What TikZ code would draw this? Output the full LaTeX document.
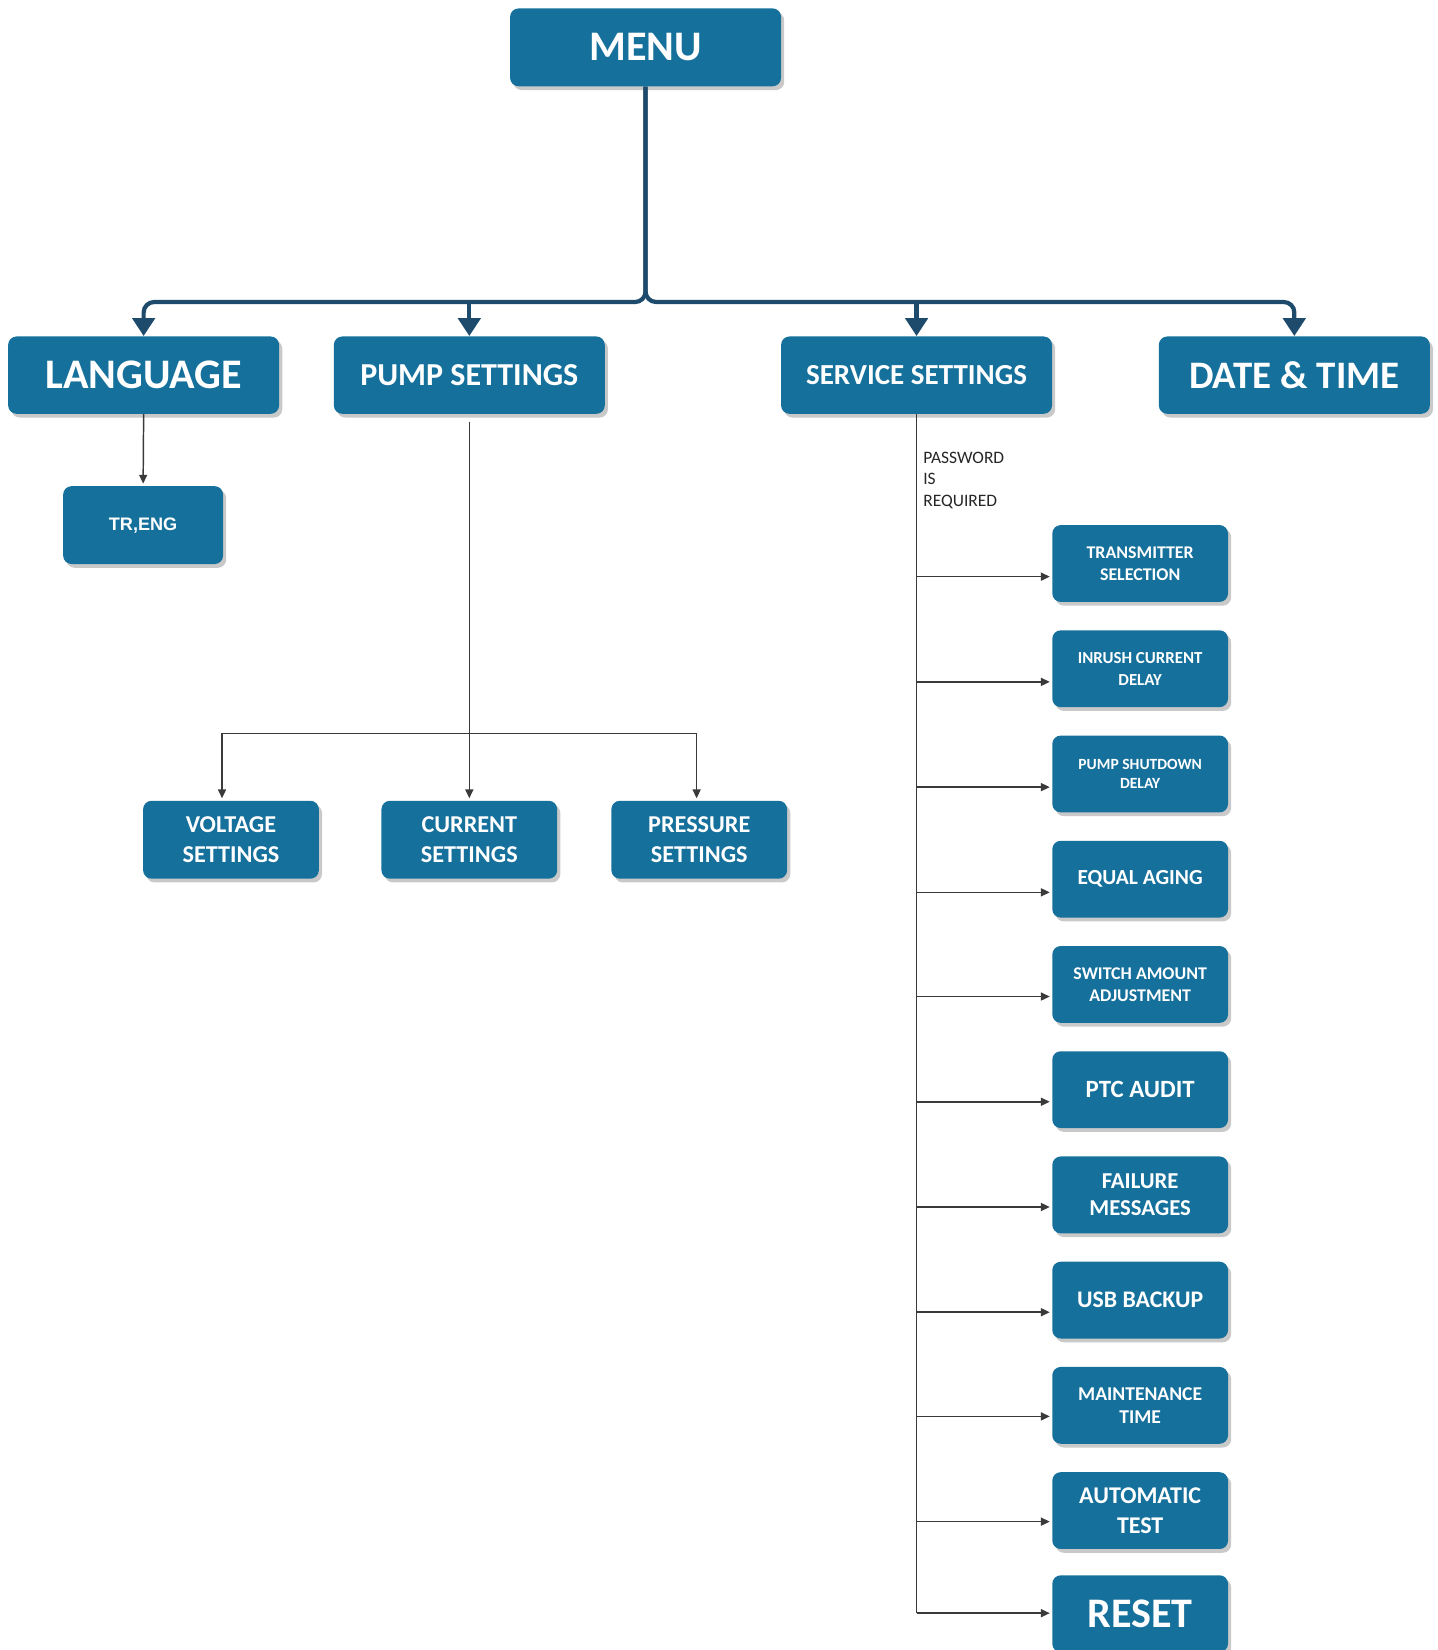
\documentclass[tikz,border=0pt]{standalone}
\usepackage{fontspec}
\setmainfont{Carlito}
\newfontfamily\arialfont{Liberation Sans}
\usetikzlibrary{arrows.meta,shadows,calc}
\definecolor{boxblue}{HTML}{15709B}
\definecolor{busnavy}{HTML}{1E4B6C}
\definecolor{linegray}{HTML}{3A3A3A}
\newcommand{\fsz}[2]{\fontsize{#1}{#2}\selectfont\bfseries}
\tikzset{
  box/.style={rectangle, rounded corners=4pt, fill=boxblue, text=white, align=center,
    inner sep=0pt, drop shadow={shadow xshift=1.5pt, shadow yshift=-1.8pt, fill=black!70, opacity=0.3}},
  bigbox/.style={box, minimum width=128.75pt, minimum height=36.75pt},
  midbox/.style={box, minimum width=83.5pt, minimum height=37pt},
  rbox/.style={box, minimum width=83.5pt, minimum height=36.5pt},
  busarrow/.style={draw=busnavy, line width=2pt, rounded corners=5pt,
    -{Triangle[length=8.5pt,width=10.5pt]}},
  thinline/.style={draw=linegray, line width=0.7pt},
  thinarrow/.style={thinline, -{Triangle[length=4.2pt,width=3.8pt]}, shorten >=1pt},
  pwtext/.style={font=\fontsize{8.3}{10.25}\selectfont, align=left, inner sep=0pt, anchor=north west, text=black!85}
}
\begin{document}
\begin{tikzpicture}[x=0.5pt,y=-0.5pt]
\useasboundingbox (0,0) rectangle (1366,1568);

% top level
\node[bigbox, minimum height=37pt, font=\fsz{20}{24}] (menu) at (613.5,45) {MENU};
\node[bigbox, font=\fsz{20}{24}] (lang) at (136.5,356.5) {LANGUAGE};
\node[bigbox, font=\fsz{15.2}{18}] (pump) at (446,356.5) {PUMP SETTINGS};
\node[bigbox, font=\fsz{13.8}{18}] (ss) at (871,356.5) {SERVICE SETTINGS};
\node[bigbox, font=\fsz{18.5}{22}] (date) at (1230,356.5) {DATE \& TIME};

% bus
\coordinate (jn) at (menu.south |- 0,287);
\draw[busarrow] (menu.south) -- (jn) -- (lang.north |- jn) -- (lang.north);
\draw[busarrow] (menu.south) -- (jn) -- (date.north |- jn) -- (date.north);
\coordinate (bp) at (pump.north |- jn);
\coordinate (bs) at (ss.north |- jn);
\draw[busarrow] (bp) -- (pump.north);
\draw[busarrow] (bs) -- (ss.north);

% language
\node[box, minimum width=76pt, minimum height=37pt, font=\arialfont\bfseries\fontsize{8.6}{10}\selectfont] (tr) at (136,499) {TR,ENG};
\draw[thinarrow] (lang.south) -- (tr.north);

% pump settings
\node[midbox, font=\fsz{11.5}{14}] (volt) at (219.5,798) {VOLTAGE\\SETTINGS};
\node[midbox, font=\fsz{11.5}{14}] (cur) at (446,798) {CURRENT\\SETTINGS};
\node[midbox, font=\fsz{11.5}{14}] (pres) at (664.5,798) {PRESSURE\\SETTINGS};
\coordinate (ph) at (pump.south |- 0,697);
\draw[thinarrow, shorten <=3.5pt] (pump.south) -- (cur.north);
\draw[thinarrow] (ph) -| ([xshift=-4.25pt]volt.north);
\draw[thinarrow] (ph) -| ([xshift=-1.25pt]pres.north);

% service settings
\node[pwtext] (pw) at (877,429) {PASSWORD\\IS\\REQUIRED};

\node[rbox, font=\fsz{8.5}{10.5}] (r1) at (1083.5,535.5) {TRANSMITTER\\SELECTION};
\node[rbox, font=\fsz{8}{10.5}] (r2) at (1083.5,635.5) {INRUSH CURRENT\\DELAY};
\node[rbox, font=\fsz{7.4}{9}] (r3) at (1083.5,735.5) {PUMP SHUTDOWN\\DELAY};
\node[rbox, font=\fsz{10.2}{12}] (r4) at (1083.5,835.5) {EQUAL AGING};
\node[rbox, font=\fsz{8.5}{10.5}] (r5) at (1083.5,935.5) {SWITCH AMOUNT\\ADJUSTMENT};
\node[rbox, font=\fsz{11.8}{14}] (r6) at (1083.5,1035.5) {PTC AUDIT};
\node[rbox, font=\fsz{10.8}{13}] (r7) at (1083.5,1135.5) {FAILURE\\MESSAGES};
\node[rbox, font=\fsz{11.3}{13}] (r8) at (1083.5,1235.5) {USB BACKUP};
\node[rbox, font=\fsz{9.3}{11}] (r9) at (1083.5,1335.5) {MAINTENANCE\\TIME};
\node[rbox, font=\fsz{11.4}{14.5}] (r10) at (1083.5,1435.5) {AUTOMATIC\\TEST};
\node[rbox, font=\fsz{20}{24}] (r11) at (1083.5,1533.5) {RESET};

\coordinate (send) at (ss.south |- 0,1533);
\draw[thinline] (ss.south) -- (send);
\foreach \i/\yy in {1/548,2/648,3/748,4/848,5/947,6/1047,7/1147,8/1247,9/1346,10/1446,11/1533}{
  \coordinate (s\i) at (ss.south |- 0,\yy);
  \draw[thinarrow] (s\i) -- (s\i -| r\i.west);
}
\end{tikzpicture}
\end{document}
